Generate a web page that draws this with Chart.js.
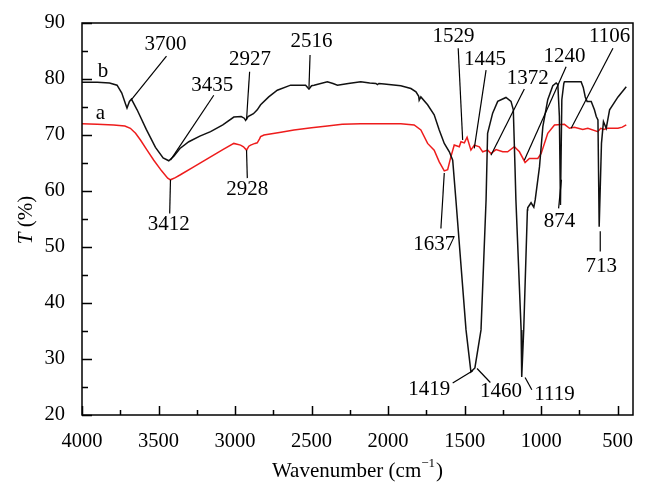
<!DOCTYPE html>
<html>
<head>
<meta charset="utf-8">
<script src="https://cdn.jsdelivr.net/npm/chart.js@4"></script>
<style>
html, body { margin: 0; padding: 0; background: #fff; }
#wrap { width: 646px; height: 491px; position: relative; }
</style>
</head>
<body>
<div id="wrap"><canvas id="ftir"></canvas></div>
<script>
// curve b (black)
const bWavenumber = [4000, 3900, 3820, 3771, 3740, 3715, 3706, 3690, 3677, 3640, 3580, 3520, 3470, 3433, 3400, 3360, 3302, 3230, 3160, 3080, 3008, 2960, 2940, 2931, 2915, 2880, 2855, 2833, 2780, 2724, 2637, 2539, 2517, 2500, 2484, 2397, 2360, 2331, 2260, 2179, 2120, 2080, 2070, 2060, 2026, 1917, 1851, 1818, 1800, 1797, 1786, 1742, 1699, 1666, 1633, 1600, 1578, 1557, 1491, 1459, 1433, 1393, 1360, 1350, 1317, 1284, 1230, 1197, 1182, 1171, 1165, 1131, 1127, 1114, 1090, 1088, 1066, 1048, 1039, 1011, 989, 957, 924, 902, 891, 881, 874, 865, 852, 848, 739, 725, 712, 700, 673, 652, 640, 629, 621, 606, 593, 575, 553, 498, 444];
const bTransmittance = [79.4, 79.4, 79.3, 78.9, 77.5, 75.5, 74.8, 76.0, 76.4, 74.5, 71.0, 67.8, 65.9, 65.4, 66.2, 67.6, 68.8, 69.8, 70.6, 71.8, 73.2, 73.3, 73.0, 72.6, 73.3, 73.8, 74.5, 75.4, 76.8, 78.0, 78.9, 78.9, 78.2, 78.8, 78.9, 79.5, 79.2, 78.9, 79.2, 79.5, 79.3, 79.2, 79.0, 79.2, 79.1, 78.8, 78.3, 77.7, 76.9, 76.2, 76.8, 75.4, 73.6, 70.9, 68.5, 67.0, 65.5, 58.4, 35.2, 27.7, 28.4, 35.2, 58.4, 70.3, 73.9, 76.0, 76.7, 76.0, 74.5, 64.3, 58.4, 35.2, 26.8, 35.2, 56.6, 57.0, 57.9, 57.1, 58.4, 64.3, 71.5, 76.3, 78.8, 79.3, 79.0, 73.3, 57.5, 76.3, 79.2, 79.5, 79.5, 78.5, 76.8, 76.0, 76.0, 74.5, 73.3, 72.7, 53.6, 68.5, 72.4, 71.2, 74.5, 76.8, 78.6];

// curve a (red)
const aWavenumber = [4000, 3900, 3793, 3720, 3684, 3650, 3618, 3575, 3531, 3480, 3440, 3422, 3390, 3357, 3270, 3160, 3080, 3008, 2964, 2945, 2925, 2910, 2898, 2870, 2855, 2840, 2833, 2811, 2700, 2615, 2500, 2397, 2300, 2179, 2000, 1917, 1830, 1786, 1742, 1699, 1666, 1633, 1611, 1590, 1568, 1535, 1524, 1502, 1484, 1459, 1437, 1404, 1382, 1349, 1328, 1295, 1251, 1219, 1175, 1142, 1105, 1077, 1022, 1000, 957, 913, 848, 815, 783, 728, 695, 630, 611, 590, 567, 543, 498, 470, 444];
const aTransmittance = [72.0, 71.9, 71.8, 71.6, 71.2, 70.3, 69.1, 67.3, 65.5, 63.6, 62.3, 62.0, 62.4, 62.9, 64.3, 66.1, 67.4, 68.5, 68.2, 67.9, 67.3, 68.0, 68.2, 68.5, 68.6, 69.3, 69.7, 70.0, 70.5, 70.9, 71.3, 71.6, 71.9, 72.0, 72.0, 72.0, 71.8, 70.9, 68.5, 67.3, 65.2, 63.6, 63.8, 66.1, 68.2, 67.9, 68.8, 68.6, 69.6, 67.3, 68.2, 67.9, 67.0, 67.3, 66.7, 67.4, 67.0, 67.0, 67.9, 67.0, 65.1, 65.8, 65.8, 66.7, 70.3, 71.8, 71.9, 71.2, 71.4, 71.0, 71.2, 70.6, 71.2, 71.0, 71.2, 71.2, 71.2, 71.4, 71.8];

const xTickValues = [4000, 3500, 3000, 2500, 2000, 1500, 1000, 500];
const yTickValues = [20, 30, 40, 50, 60, 70, 80, 90];

// peak labels: text, label centre (wavenumber, T), leader line from / to
const peakLabels = [
    {text: 'b', at: [3863, 81.3]},
    {text: 'a', at: [3880, 73.9]},
    {text: '3700', at: [3455, 86.1], line: [3448, 84.1, 3677, 76.3]},
    {text: '3435', at: [3149, 78.9], line: [3139, 77.1, 3422, 65.5]},
    {text: '2927', at: [2903, 83.5], line: [2905, 81.3, 2925, 72.7]},
    {text: '2516', at: [2501, 86.7], line: [2510, 84.3, 2517, 78.5]},
    {text: '3412', at: [3433, 54.1], line: [3422, 62.0, 3427, 56.0]},
    {text: '2928', at: [2920, 60.2], line: [2925, 67.3, 2920, 62.3]},
    {text: '1529', at: [1572, 87.6], line: [1542, 85.5, 1513, 69.1]},
    {text: '1445', at: [1367, 83.5], line: [1360, 81.6, 1437, 67.6]},
    {text: '1372', at: [1088, 80.1], line: [1110, 78.2, 1328, 66.4]},
    {text: '1240', at: [848, 84.0], line: [837, 82.2, 1110, 65.5]},
    {text: '1106', at: [553, 87.6], line: [531, 85.5, 804, 71.2]},
    {text: '874', at: [881, 54.5], line: [868, 62.0, 886, 56.9]},
    {text: '1637', at: [1699, 50.4], line: [1655, 53.3, 1633, 63.2]},
    {text: '713', at: [608, 46.5], line: [614, 52.8, 614, 49.2]},
    {text: '1419', at: [1732, 24.5], line: [1578, 25.7, 1447, 27.9]},
    {text: '1460', at: [1262, 24.2], line: [1332, 25.8, 1419, 28.3]},
    {text: '1119', at: [913, 23.6], line: [1105, 26.7, 1061, 24.5]}
];

const FONT = '"Liberation Serif", "Times New Roman", serif';

function toPoints(xs, ys) {
    return xs.map((x, i) => ({x: x, y: ys[i]}));
}

// frame, inward ticks, axis titles and peak labels
const decorations = {
    id: 'decorations',
    afterDatasetsDraw(chart) {
        const {ctx, scales: {x, y}} = chart;
        ctx.save();
        ctx.strokeStyle = '#000';
        ctx.fillStyle = '#000';
        ctx.lineWidth = 1.2;
        ctx.font = '21px ' + FONT;
        ctx.textAlign = 'center';
        ctx.textBaseline = 'middle';
        peakLabels.forEach(p => {
            if (p.line) {
                ctx.beginPath();
                ctx.moveTo(x.getPixelForValue(p.line[0]), y.getPixelForValue(p.line[1]));
                ctx.lineTo(x.getPixelForValue(p.line[2]), y.getPixelForValue(p.line[3]));
                ctx.stroke();
            }
            ctx.fillText(p.text, x.getPixelForValue(p.at[0]), y.getPixelForValue(p.at[1]));
        });
        ctx.restore();
    },
    afterDraw(chart) {
        const {ctx, chartArea: a, scales: {x, y}} = chart;
        ctx.save();
        ctx.strokeStyle = '#000';
        ctx.lineWidth = 1.5;
        ctx.strokeRect(a.left, a.top, a.right - a.left, a.bottom - a.top);

        ctx.beginPath();
        for (let v = 500; v <= 4000; v += 250) {
            const px = Math.round(x.getPixelForValue(v)) + 0.5;
            const len = v % 500 === 0 ? 9 : 5;
            ctx.moveTo(px, a.bottom);
            ctx.lineTo(px, a.bottom - len);
        }
        for (let v = 20; v <= 90; v += 5) {
            const py = Math.round(y.getPixelForValue(v)) + 0.5;
            const len = v % 10 === 0 ? 10 : 6;
            ctx.moveTo(a.left, py);
            ctx.lineTo(a.left + len, py);
        }
        ctx.stroke();

        // x title with superscript
        ctx.fillStyle = '#000';
        ctx.textBaseline = 'alphabetic';
        ctx.textAlign = 'left';
        const main = 'Wavenumber (cm';
        ctx.font = '21px ' + FONT;
        const w1 = ctx.measureText(main).width;
        ctx.font = '13px ' + FONT;
        const sup = '\u22121';
        const w2 = ctx.measureText(sup).width;
        ctx.font = '21px ' + FONT;
        const w3 = ctx.measureText(')').width;
        const cx = (a.left + a.right) / 2;
        let sx = cx - (w1 + w2 + w3 + 1) / 2;
        const base = 477;
        ctx.fillText(main, sx, base);
        ctx.font = '13px ' + FONT;
        ctx.fillText(sup, sx + w1, base - 10);
        ctx.font = '21px ' + FONT;
        ctx.fillText(')', sx + w1 + w2 + 1, base);

        // y title
        ctx.translate(26, (a.top + a.bottom) / 2 + 1);
        ctx.rotate(-Math.PI / 2);
        ctx.textBaseline = 'middle';
        ctx.font = 'italic 21px ' + FONT;
        const tw = ctx.measureText('T').width;
        ctx.font = '21px ' + FONT;
        const rest = ' (%)';
        const rw = ctx.measureText(rest).width;
        const start = -(tw + rw) / 2;
        ctx.font = 'italic 21px ' + FONT;
        ctx.fillText('T', start, 0);
        ctx.font = '21px ' + FONT;
        ctx.fillText(rest, start + tw, 0);
        ctx.restore();
    }
};

new Chart(document.getElementById('ftir'), {
    type: 'line',
    data: {
        datasets: [
            {
                label: 'b',
                data: toPoints(bWavenumber, bTransmittance),
                borderColor: '#111111',
                borderWidth: 1.5,
                pointRadius: 0,
                tension: 0,
                fill: false
            },
            {
                label: 'a',
                data: toPoints(aWavenumber, aTransmittance),
                borderColor: '#ee1c1c',
                borderWidth: 1.5,
                pointRadius: 0,
                tension: 0,
                fill: false
            }
        ]
    },
    options: {
        responsive: true,
        maintainAspectRatio: false,
        animation: false,
        layout: {padding: {top: 23, right: 13, left: 0, bottom: 0}},
        plugins: {
            legend: {display: false},
            tooltip: {enabled: false}
        },
        scales: {
            x: {
                type: 'linear',
                reverse: true,
                min: 400,
                max: 4000,
                afterBuildTicks: scale => {
                    scale.ticks = xTickValues.map(v => ({value: v}));
                },
                afterFit: scale => { scale.height = 76; },
                grid: {display: false},
                border: {display: false},
                ticks: {
                    color: '#000',
                    font: {family: FONT, size: 20.5},
                    padding: 6,
                    maxRotation: 0,
                    autoSkip: false,
                    callback: v => String(v)
                }
            },
            y: {
                min: 20,
                max: 90,
                afterBuildTicks: scale => {
                    scale.ticks = yTickValues.map(v => ({value: v}));
                },
                afterFit: scale => { scale.width = 82; },
                grid: {display: false},
                border: {display: false},
                ticks: {
                    color: '#000',
                    font: {family: FONT, size: 20.5},
                    padding: 9,
                    callback: v => String(v)
                }
            }
        }
    },
    plugins: [decorations]
});
</script>
</body>
</html>
